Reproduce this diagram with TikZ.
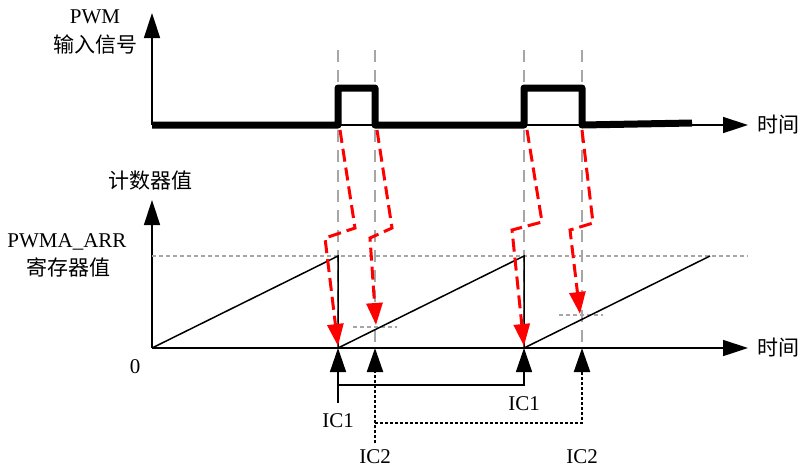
\documentclass[tikz,border=0pt]{standalone}
\usepackage{fontspec}
\setmainfont{Liberation Serif}
\newfontfamily\cjk{Noto Sans CJK SC}
\usetikzlibrary{arrows.meta}

\begin{document}
\begin{tikzpicture}[x=0.5pt, y=-0.5pt,
  lbl/.style={font=\fontsize{10.5}{12.5}\selectfont, inner sep=1pt},
  cjklbl/.style={font=\cjk\fontsize{10.5}{12.5}\selectfont, inner sep=1pt},
  axis/.style={line width=0.75pt, -{Triangle[length=12.5pt,width=8pt]}},
  signal/.style={line width=3.5pt, line join=round},
  guide/.style={gray!70, line width=1.2pt, dash pattern=on 6pt off 4pt},
  level/.style={gray!70, line width=1pt, dash pattern=on 2pt off 1.5pt},
  capture/.style={red, line width=1.5pt, dash pattern=on 6.5pt off 3pt, -{Triangle[length=11pt,width=8pt]}},
  ramp/.style={line width=0.75pt},
  icone/.style={line width=0.75pt, -{Triangle[length=12pt,width=8pt]}},
  ictwo/.style={line width=1.1pt, dash pattern=on 1.5pt off 1pt, -{Triangle[length=12pt,width=8pt]}}]
\useasboundingbox (0,0) rectangle (801,468);

% axes
\coordinate (O1) at (152,125);
\coordinate (Y1) at (152,13);
\coordinate (X1) at (748,125);
\coordinate (O2) at (152,348);
\coordinate (Y2) at (152,200);
\coordinate (X2) at (748,348);
\draw[axis] (O1) -- (Y1);
\draw[axis] (O1) -- (X1);
\draw[axis] (O2) -- (Y2);
\draw[axis] (O2) -- (X2);

\node[lbl] (pwm) at (95,17) {PWM};
\node[cjklbl] (sig) at (95,45) {输入信号};
\node[cjklbl] (cnt) at (150,181) {计数器值};
\node[lbl] (arr) at (67,242) {PWMA\_ARR};
\node[cjklbl] (reg) at (68,267) {寄存器值};
\node[lbl] (zero) at (135,367) {0};
\node[cjklbl] (t1) at (778,125) {时间};
\node[cjklbl] (t2) at (778,348) {时间};

% guides
\foreach \x in {338,375,524,582}
  \draw[guide] (\x,50) -- (\x,348);
\draw[level] (152,256) -- (748,256);
\draw[level] (353,327) -- (397,327);
\draw[level] (559,315) -- (603,315);

% input signal
\draw[signal] (O1) -- (338,125) -- (338,88) -- (375,88) -- (375,125)
  -- (524,125) -- (524,88) -- (582,88) -- (582,125) -- (692,123);

% counter
\coordinate (p1) at (338,256);
\coordinate (z1) at (338,348);
\coordinate (p2) at (524,256);
\coordinate (z2) at (524,348);
\coordinate (p3) at (710,256);
\draw[ramp] (O2) -- (p1) -- (z1) -- (p2) -- (z2) -- (p3);

% capture
\coordinate (e1) at (340,130);
\coordinate (e2) at (377,130);
\coordinate (e3) at (527,130);
\coordinate (e4) at (582,130);
\coordinate (h1) at (338,346);
\coordinate (h2) at (376,325);
\coordinate (h3) at (524,346);
\coordinate (h4) at (580,314);
\draw[capture] (e1) -- ++(15,98) -- ++(-30,10) -- (h1);
\draw[capture] (e2) -- ++(15,98) -- ++(-22,10) -- (h2);
\draw[capture] (e3) -- ++(15,92) -- ++(-30,8) -- (h3);
\draw[capture] (e4) -- ++(11,93) -- ++(-23,7) -- (h4);

% IC1 / IC2
\coordinate (k1) at (338,403);
\coordinate (j1) at (338,385);
\coordinate (q1) at (375,348);
\coordinate (q2) at (582,348);
\coordinate (m1) at (375,443);
\coordinate (m2) at (375,423);
\draw[icone] (k1) -- (z1);
\draw[icone] (j1) -| (z2);
\draw[ictwo] (m1) -- (q1);
\draw[ictwo] (m2) -| (q2);
\node[lbl] (ica) at (338,421) {IC1};
\node[lbl] (icb) at (524,404) {IC1};
\node[lbl] (icc) at (375,457) {IC2};
\node[lbl] (icd) at (582,457) {IC2};
\end{tikzpicture}
\end{document}
